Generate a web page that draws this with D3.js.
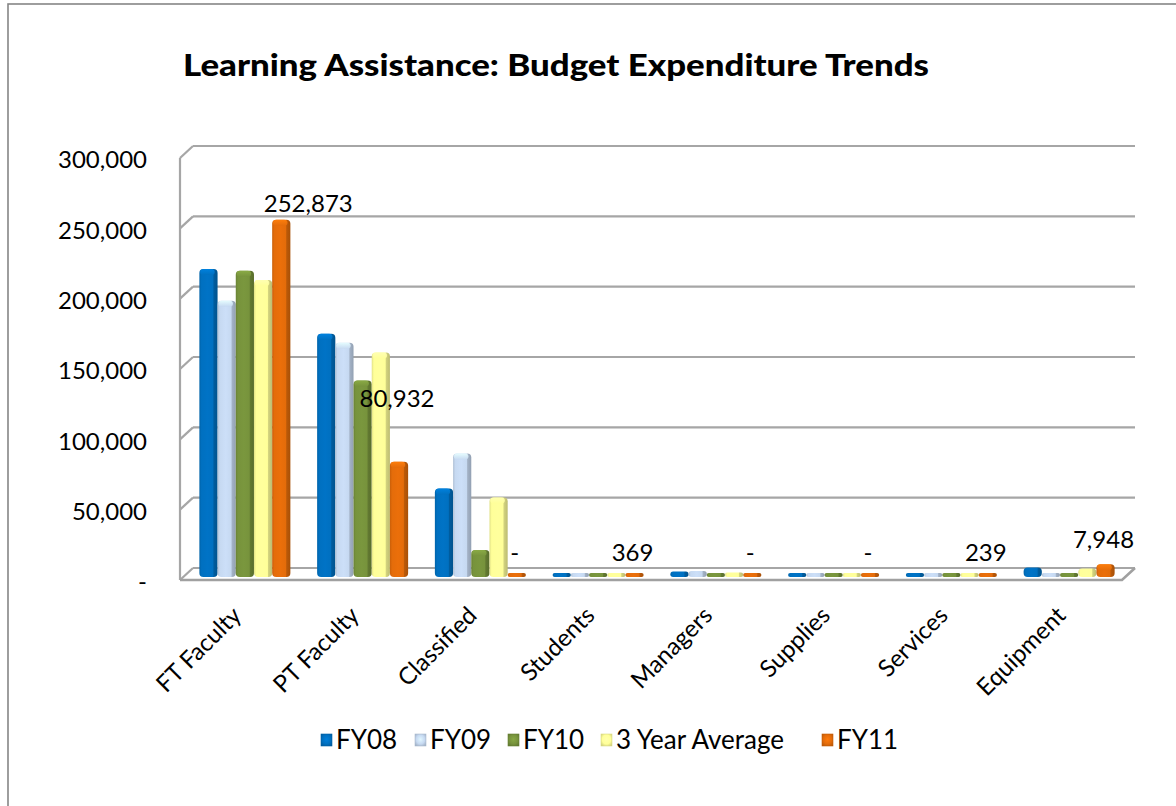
<!DOCTYPE html>
<html>
<head>
<meta charset="utf-8">
<script src="https://cdn.jsdelivr.net/npm/d3@7"></script>
<style>
  html, body { margin: 0; padding: 0; background: #fff; }
  svg { display: block; }
  text { font-family: Lato, "Open Sans", sans-serif; fill: #000; }
</style>
</head>
<body>
<svg id="chart" width="1176" height="806"></svg>
<script>
// Budget expenditure by category and fiscal year
const categories = ["FT Faculty", "PT Faculty", "Classified", "Students", "Managers", "Supplies", "Services", "Equipment"];
const seriesNames = ["FY08", "FY09", "FY10", "3 Year Average", "FY11"];
const fy08 = [217900, 171800, 61800, 600, 2800, 300, 700, 5600];
const fy09 = [195400, 165400, 86700, 400, 3200, 200, 400, 700];
const fy10 = [216700, 138700, 18100, 500, 400, 300, 300, 900];
const avg3 = [210000, 158600, 55500, 500, 2100, 270, 470, 5000];
const fy11 = [252873, 80932, 0, 369, 0, 0, 239, 7948];
const yTicks = [0, 50000, 100000, 150000, 200000, 250000, 300000];
const seriesColors = ["#0070C0", "#C6D9F1", "#77933C", "#FFFF99", "#E46C0A"];

const seriesValues = [fy08, fy09, fy10, avg3, fy11];
const labelledSeries = 4; // FY11 carries the value labels

const svg = d3.select("#chart");
const fmt = v => v === 0 ? "-" : d3.format(",")(v);

// outer chart border
svg.append("rect").attr("x", 8).attr("y", 4).attr("width", 1300).attr("height", 1000)
  .attr("fill", "none").attr("stroke", "#868686").attr("stroke-width", 1.6);

// title
const title = svg.append("text").attr("x", 183).attr("y", 76)
  .style("font-weight", 900).style("font-size", "31px")
  .text("Learning Assistance: Budget Expenditure Trends");
const tw = title.node().getComputedTextLength();
if (Math.abs(tw - 746) > 4) title.attr("textLength", 746).attr("lengthAdjust", "spacingAndGlyphs");

// 3-D geometry of the plot box
const depthX = 13, depthY = 12;
const x = d3.scaleBand().domain(categories).range([180, 1122]).padding(0);
const yFront = d3.scaleLinear().domain([0, 300000]).range([580, 158]);
const yBack = v => yFront(v) - depthY;
const yBar = d3.scaleLinear().domain([0, 300000]).range([575.5, 153.5]);
const groupW = 91;
const sub = d3.scaleBand().domain(seriesNames).range([0, groupW]).padding(0);
const barShift = (x.bandwidth() - groupW) / 2 + 6;

const wall = svg.append("g").attr("fill", "none").attr("stroke", "#a6a6a6").attr("stroke-width", 2.2);
// back-wall gridlines and left-wall diagonals
yTicks.forEach(v => {
  wall.append("line").attr("x1", 180 + depthX).attr("x2", 1122 + depthX)
    .attr("y1", yBack(v)).attr("y2", yBack(v));
  wall.append("line").attr("x1", 180).attr("x2", 180 + depthX)
    .attr("y1", yFront(v)).attr("y2", yBack(v));
});
// left wall front edge
wall.append("line").attr("x1", 180).attr("x2", 180).attr("y1", yFront(300000)).attr("y2", yFront(0));
// floor front edge and right edge
wall.append("path")
  .attr("d", `M180,${yFront(0)} L1122,${yFront(0)} L${1122 + depthX},${yBack(0)}`)
  .attr("stroke-width", 2.6).attr("stroke", "#a0a0a0");

// gradients giving the bars a bevelled look
const defs = svg.append("defs");
seriesColors.forEach((c, i) => {
  const base = d3.color(c);
  const g = defs.append("linearGradient").attr("id", "bar" + i).attr("x1", 0).attr("x2", 1).attr("y1", 0).attr("y2", 0);
  [[0, base.darker(0.35)], [0.12, base], [0.45, base.brighter(0.08)], [0.74, base],
   [0.8, base.darker(0.55)], [1, base.darker(0.85)]].forEach(([o, col]) =>
    g.append("stop").attr("offset", o).attr("stop-color", col.formatHex()));
  const cg = defs.append("linearGradient").attr("id", "cap" + i).attr("x1", 0).attr("x2", 0).attr("y1", 0).attr("y2", 1);
  [[0, base.brighter(0.45)], [1, base]].forEach(([o, col]) =>
    cg.append("stop").attr("offset", o).attr("stop-color", col.formatHex()));
  const lg = defs.append("radialGradient").attr("id", "leg" + i).attr("cx", 0.5).attr("cy", 0.45).attr("r", 0.7);
  [[0, base.brighter(0.35)], [0.55, base], [1, base.darker(0.7)]].forEach(([o, col]) =>
    lg.append("stop").attr("offset", o).attr("stop-color", col.formatHex()));
});

// bars
const barBase = 577;
const rows = [];
categories.forEach((cat, ci) => {
  seriesNames.forEach((s, si) => {
    rows.push({ cat, s, si, v: seriesValues[si][ci] });
  });
});
const bars = svg.append("g").selectAll("g").data(rows).join("g")
  .attr("transform", d => `translate(${x(d.cat) + barShift + sub(d.s)},0)`);
const bw = sub.bandwidth();
bars.each(function (d) {
  const g = d3.select(this);
  const top = Math.min(yBar(d.v), barBase - 4);
  const h = barBase - top;
  const r = Math.min(4, h / 2);
  g.append("rect").attr("x", 0).attr("y", top).attr("width", bw).attr("height", h)
    .attr("rx", r).attr("ry", r).attr("fill", `url(#bar${d.si})`);
  if (h > 10) {
    g.append("rect").attr("x", 0.8).attr("y", top).attr("width", bw * 0.8).attr("height", 6)
      .attr("rx", 3.5).attr("ry", 3).attr("fill", `url(#cap${d.si})`).attr("opacity", 0.9);
  }
});

// value labels on the FY11 series
const labelNudge = { "FT Faculty": [27, 4], "PT Faculty": [-2, -43], "Equipment": [-2, -4] };
svg.append("g").selectAll("text").data(categories).join("text")
  .attr("x", c => x(c) + barShift + sub(seriesNames[labelledSeries]) + bw / 2 + (labelNudge[c] ? labelNudge[c][0] : -2))
  .attr("y", c => Math.min(yBar(fy11[categories.indexOf(c)]), barBase - 4) - 12 + (labelNudge[c] ? labelNudge[c][1] : 0))
  .attr("text-anchor", "middle").style("font-size", "24px")
  .text(c => fmt(fy11[categories.indexOf(c)]));

// value axis
const yAxis = svg.append("g").attr("transform", "translate(180,2)")
  .call(d3.axisLeft(yFront).tickValues(yTicks).tickFormat(fmt).tickSize(0).tickPadding(33));
yAxis.select(".domain").remove();
yAxis.selectAll("text").style("font-size", "24px").style("font-family", "Lato, 'Open Sans', sans-serif").attr("fill", "#000");

// category labels, rotated
svg.append("g").selectAll("text").data(categories).join("text")
  .attr("transform", c => `translate(${x(c) + x.bandwidth() / 2 + 4},617) rotate(-45)`)
  .attr("text-anchor", "end").style("font-size", "24px")
  .text(c => c);

// legend
const legendX = [321, 415, 508, 601, 822];
const legend = svg.append("g");
seriesNames.forEach((s, i) => {
  const it = legend.append("g").attr("transform", `translate(${legendX[i]},0)`);
  it.append("rect").attr("x", 0).attr("y", 734).attr("width", 11).attr("height", 12)
    .attr("fill", `url(#leg${i})`).attr("stroke", d3.color(seriesColors[i]).darker(0.4)).attr("stroke-width", 0.6);
  it.append("text").attr("x", 15).attr("y", 749).style("font-size", "26px").text(s);
});
</script>
</body>
</html>
